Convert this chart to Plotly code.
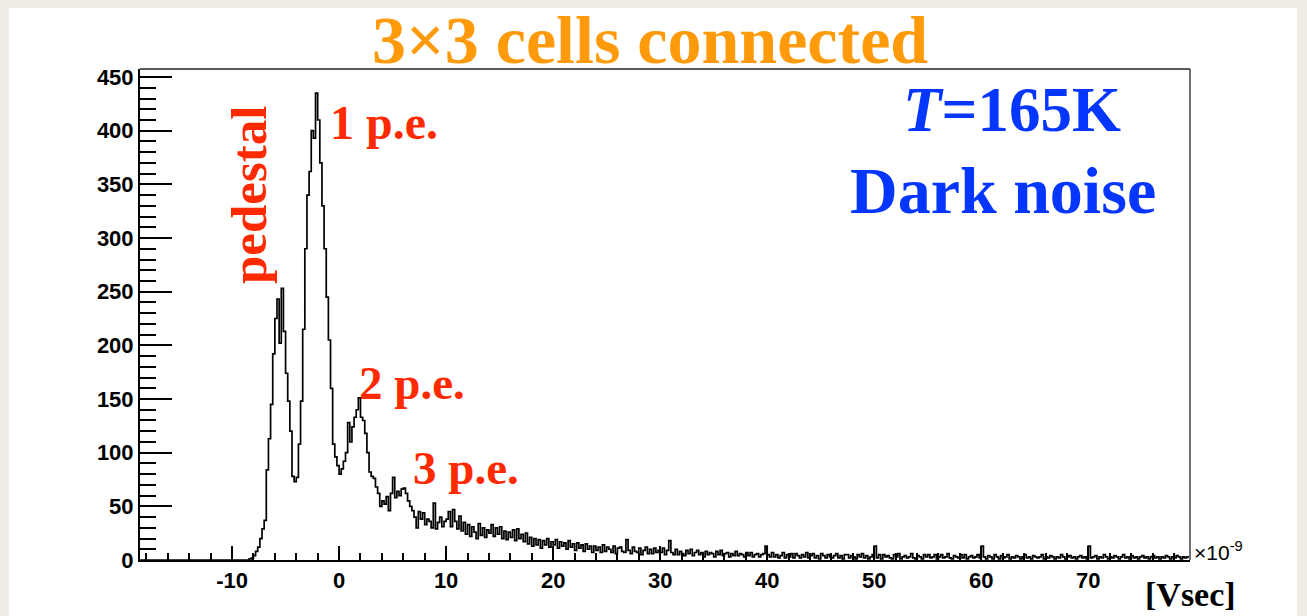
import numpy as np
import plotly.graph_objects as go

# Integrated charge histogram, bin width 0.2e-9 V*s starting at -8.6e-9
BIN_START = -8.6
BIN_WIDTH = 0.2

# counts per bin, grouped by ranges of the integrated charge (x1e-9 V*s)
counts_m9_0 = [
    0, 1, 2, 4, 8, 12, 20, 29, 37, 84,
    113, 145, 192, 225, 243, 202, 253, 213, 174, 148,
    120, 78, 73, 77, 108, 148, 215, 290, 340, 362,
    400, 393, 435, 410, 370, 330, 290, 245, 205, 160,
    108, 96, 88,
]
counts_0_10 = [
    80, 85, 92, 100, 128, 110, 124, 133, 140, 151,
    133, 130, 118, 100, 82, 78, 76, 68, 62, 50,
    55, 52, 59, 46, 62, 77, 58, 64, 60, 66,
    67, 62, 55, 50, 46, 40, 30, 45, 38, 44,
    33, 38, 36, 30, 53, 29, 35, 40, 31, 36,
]
counts_10_20 = [
    38, 45, 31, 47, 36, 29, 41, 27, 35, 24,
    33, 22, 31, 26, 20, 34, 23, 30, 21, 28,
    25, 33, 22, 30, 24, 31, 20, 27, 19, 26,
    21, 28, 18, 29, 20, 24, 17, 25, 15, 21,
    13, 20, 14, 19, 11, 18, 14, 20, 12, 17,
]
counts_20_30 = [
    14, 19, 11, 17, 13, 16, 10, 18, 12, 15,
    9, 16, 11, 14, 8, 15, 10, 13, 7, 13,
    9, 12, 7, 14, 8, 12, 10, 7, 13, 6,
    11, 12, 8, 7, 19, 9, 6, 12, 8, 7,
    11, 5, 9, 12, 6, 10, 6, 11, 7, 9,
]
counts_30_40 = [
    7, 11, 5, 9, 18, 7, 5, 10, 5, 8,
    6, 4, 9, 6, 10, 4, 7, 9, 5, 7,
    3, 8, 5, 7, 6, 3, 8, 5, 9, 4,
    6, 7, 3, 6, 4, 8, 4, 6, 5, 3,
    7, 4, 7, 3, 5, 6, 3, 5, 6, 13,
]
counts_40_50 = [
    5, 3, 7, 3, 5, 2, 4, 7, 2, 5,
    3, 6, 2, 6, 4, 2, 5, 3, 7, 2,
    4, 6, 2, 4, 1, 6, 4, 2, 5, 3,
    2, 4, 6, 2, 4, 1, 5, 5, 2, 4,
    3, 1, 5, 3, 6, 2, 4, 1, 3, 5,
]
counts_50_60 = [
    13, 2, 5, 1, 5, 3, 4, 2, 1, 5,
    3, 6, 1, 3, 4, 2, 3, 6, 2, 1,
    4, 3, 1, 5, 3, 5, 2, 3, 5, 1,
    3, 5, 2, 3, 6, 2, 1, 4, 3, 2,
    5, 2, 5, 1, 3, 4, 2, 3, 5, 2,
]
counts_60_70 = [
    13, 3, 1, 4, 3, 1, 5, 3, 1, 4,
    2, 3, 5, 1, 3, 2, 4, 3, 1, 3,
    5, 2, 3, 1, 4, 3, 2, 3, 5, 1,
    3, 2, 4, 3, 1, 3, 2, 5, 3, 1,
    3, 4, 2, 3, 1, 3, 4, 2, 3, 1,
]
counts_70_80 = [
    13, 2, 3, 4, 1, 3, 2, 5, 3, 1,
    3, 2, 4, 3, 1, 3, 5, 2, 3, 1,
    4, 2, 3, 1, 3, 4, 2, 3, 1, 3,
    4, 2, 3, 1, 3, 2, 4, 3, 1, 3,
    2, 4, 3, 1, 3, 2, 3,
]

x_ticks = [-10, 0, 10, 20, 30, 40, 50, 60, 70]
y_ticks = [0, 50, 100, 150, 200, 250, 300, 350, 400, 450]

counts = np.array(
    counts_m9_0 + counts_0_10 + counts_10_20 + counts_20_30 + counts_30_40
    + counts_40_50 + counts_50_60 + counts_60_70 + counts_70_80,
    dtype=float,
)
edges = BIN_START + BIN_WIDTH * np.arange(len(counts) + 1)

X_MIN, X_MAX = -18.6, 79.5
Y_MIN, Y_MAX = 0, 457.5

# outline of the histogram as a step line
step_x = np.concatenate([[X_MIN], edges])
step_y = np.concatenate([[0.0], counts, [counts[-1]]])

fig = go.Figure()
fig.add_trace(go.Scatter(
    x=step_x, y=step_y, mode="lines", line_shape="hv",
    line=dict(color="black", width=1.7), hoverinfo="skip", showlegend=False,
))

W, H = 1307, 616
ML, MR, MT, MB = 140, 117, 69, 56
PW, PH = W - ML - MR, H - MT - MB


def px(xpix):
    return (xpix - ML) / PW


def py(ypix):
    return (H - MB - ypix) / PH


sans = "Liberation Sans"
serif = "Liberation Serif"
RED = "#ff2a00"
BLUE = "#0536ff"
ORANGE = "#ff9a0a"

tick_font = dict(family=sans, size=22, color="black", weight="bold")

fig.update_layout(
    width=W, height=H, autosize=False,
    margin=dict(l=ML, r=MR, t=MT, b=MB, pad=0),
    paper_bgcolor="#f1ede6",
    plot_bgcolor="white",
    showlegend=False,
    xaxis=dict(
        range=[X_MIN, X_MAX], showgrid=False, zeroline=False,
        showline=True, linecolor="black", linewidth=2,
        tickmode="array", tickvals=x_ticks, ticktext=[str(v) for v in x_ticks],
        ticks="inside", ticklen=14, tickwidth=1.5, tickcolor="black",
        minor=dict(dtick=2, tick0=0, ticks="inside", ticklen=7, tickwidth=1.5,
                   tickcolor="black", showgrid=False),
        tickfont=tick_font,
    ),
    yaxis=dict(
        range=[Y_MIN, Y_MAX], showgrid=False, zeroline=False,
        showline=True, linecolor="black", linewidth=2,
        tickmode="array", tickvals=y_ticks, ticktext=[str(v) for v in y_ticks],
        ticks="inside", ticklen=32, tickwidth=1.5, tickcolor="black",
        minor=dict(dtick=10, tick0=0, ticks="inside", ticklen=16, tickwidth=1.5,
                   tickcolor="black", showgrid=False),
        tickfont=tick_font,
    ),
)

shapes = [
    # white canvas
    dict(type="rect", xref="paper", yref="paper", layer="below",
         x0=px(9), x1=px(1297), y0=py(616), y1=py(8),
         fillcolor="white", line=dict(width=0)),
    # top and right frame
    dict(type="line", xref="paper", yref="paper", x0=0, x1=1, y0=1, y1=1,
         line=dict(color="#222222", width=1.3)),
    dict(type="line", xref="paper", yref="paper", x0=1, x1=1, y0=0, y1=1,
         line=dict(color="#222222", width=1.3)),
]
fig.update_layout(shapes=shapes)


def label(text, xpix, ypix, size, color, family=serif, angle=0, xanchor="center"):
    fig.add_annotation(
        text=text, x=px(xpix), y=py(ypix), xref="paper", yref="paper",
        xanchor=xanchor, yanchor="middle", showarrow=False, textangle=angle,
        font=dict(family=family, size=size, color=color, weight="bold"),
    )


label("3×3 cells connected", 650, 40, 68, ORANGE)
label("<i>T</i>=165K", 1012, 110, 63, BLUE)
label("Dark noise", 1003, 190, 66, BLUE)
label("pedestal", 249, 195, 51, RED, angle=-90)
label("1 p.e.", 384, 122, 48, RED)
label("2 p.e.", 412, 383, 47, RED)
label("3 p.e.", 466, 468, 47, RED)
label("[Vsec]", 1190, 594, 34, "black")
fig.add_annotation(
    text="×10<sup>-9</sup>", x=px(1192), y=py(551), xref="paper", yref="paper",
    xanchor="left", yanchor="middle", showarrow=False,
    font=dict(family=sans, size=21, color="black"),
)

fig.write_html("out.html")
